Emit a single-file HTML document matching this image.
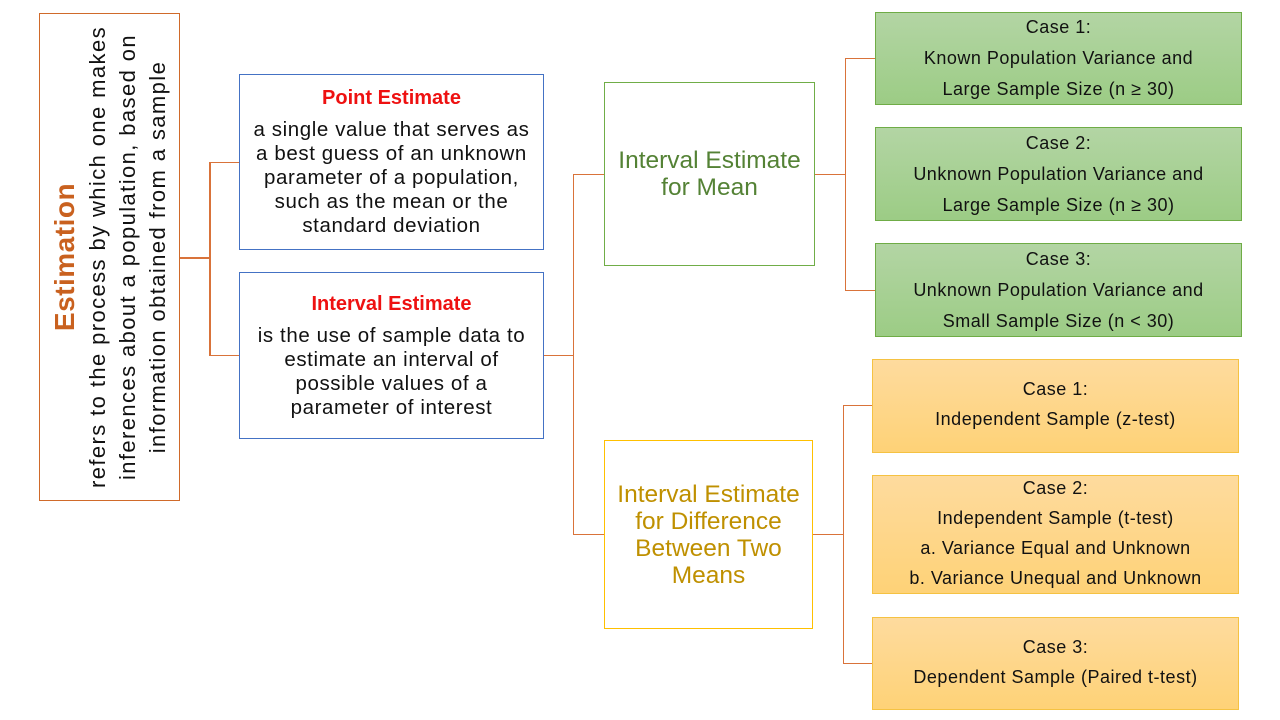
<!DOCTYPE html>
<html><head><meta charset="utf-8"><style>
body{margin:0;width:1280px;height:720px;background:#fff;position:relative;font-family:"Liberation Sans",sans-serif;overflow:hidden}
.b{position:absolute;box-sizing:border-box;display:flex;flex-direction:column;justify-content:center;align-items:center;text-align:center;color:#111}
.l{position:absolute;background:#d9733a}
.g{background:linear-gradient(#b3d5a4,#9ccc85);border:1px solid #6fac46;font-size:18px;line-height:31px;letter-spacing:0.5px}
.y{background:linear-gradient(#fedb9e,#fed277);border:1px solid #f5c242;font-size:18px;line-height:30px;letter-spacing:0.5px}
</style></head><body>
<div class="b" style="left:39px;top:13px;width:141px;height:488px;border:1px solid #d06a2a;">
 <div style="transform:rotate(-90deg);width:480px;font-size:22px;line-height:30px;letter-spacing:1.4px;white-space:nowrap">
  <div style="color:#c9611f;font-weight:bold;font-size:28px;line-height:36px;letter-spacing:0.5px">Estimation</div>
  <div>refers to the process by which one makes</div>
  <div>inferences about a population, based on</div>
  <div>information obtained from a sample</div>
 </div>
</div>
<div class="l" style="left:180px;top:257px;width:30px;height:2px"></div>
<div class="l" style="left:209px;top:162px;width:2px;height:194px"></div>
<div class="l" style="left:209px;top:162px;width:30px;height:1px"></div>
<div class="l" style="left:209px;top:355px;width:30px;height:1px"></div>

<div class="b" style="left:239px;top:74px;width:305px;height:176px;border:1px solid #4472c4;font-size:20.5px;line-height:24px;letter-spacing:0.6px">
 <div style="color:#ee1111;font-weight:bold;margin-bottom:8px;font-size:20px;letter-spacing:0">Point Estimate</div>
 <div>a single value that serves as<br>a best guess of an unknown<br>parameter of a population,<br>such as the mean or the<br>standard deviation</div>
</div>
<div class="b" style="left:239px;top:272px;width:305px;height:167px;border:1px solid #4472c4;font-size:20.5px;line-height:24px;letter-spacing:0.6px">
 <div style="color:#ee1111;font-weight:bold;margin-bottom:8px;font-size:20px;letter-spacing:0">Interval Estimate</div>
 <div>is the use of sample data to<br>estimate an interval of<br>possible values of a<br>parameter of interest</div>
</div>
<div class="l" style="left:544px;top:355px;width:30px;height:1px"></div>
<div class="l" style="left:573px;top:174px;width:1px;height:361px"></div>
<div class="l" style="left:573px;top:174px;width:31px;height:1px"></div>
<div class="l" style="left:573px;top:534px;width:31px;height:1px"></div>

<div class="b" style="left:604px;top:82px;width:211px;height:184px;border:1px solid #70ad47;color:#548235;font-size:24.5px;line-height:27px">Interval Estimate<br>for Mean</div>
<div class="b" style="left:604px;top:440px;width:209px;height:189px;border:1px solid #ffc000;color:#bf9000;font-size:24.5px;line-height:27px">Interval Estimate<br>for Difference<br>Between Two<br>Means</div>

<div class="l" style="left:815px;top:174px;width:30px;height:1px"></div>
<div class="l" style="left:845px;top:58px;width:1px;height:233px"></div>
<div class="l" style="left:845px;top:58px;width:30px;height:1px"></div>
<div class="l" style="left:845px;top:290px;width:30px;height:1px"></div>

<div class="b g" style="left:875px;top:12px;width:367px;height:93px">Case 1:<br>Known Population Variance and<br>Large Sample Size (n ≥ 30)</div>
<div class="b g" style="left:875px;top:127px;width:367px;height:94px">Case 2:<br>Unknown Population Variance and<br>Large Sample Size (n ≥ 30)</div>
<div class="b g" style="left:875px;top:243px;width:367px;height:94px">Case 3:<br>Unknown Population Variance and<br>Small Sample Size (n &lt; 30)</div>

<div class="l" style="left:813px;top:534px;width:30px;height:1px"></div>
<div class="l" style="left:843px;top:405px;width:1px;height:259px"></div>
<div class="l" style="left:843px;top:405px;width:29px;height:1px"></div>
<div class="l" style="left:843px;top:663px;width:29px;height:1px"></div>

<div class="b y" style="left:872px;top:359px;width:367px;height:94px;padding-bottom:4px">Case 1:<br>Independent Sample (z-test)</div>
<div class="b y" style="left:872px;top:475px;width:367px;height:119px;padding-bottom:3px">Case 2:<br>Independent Sample (t-test)<br>a. Variance Equal and Unknown<br>b. Variance Unequal and Unknown</div>
<div class="b y" style="left:872px;top:617px;width:367px;height:93px;padding-bottom:4px">Case 3:<br>Dependent Sample (Paired t-test)</div>
</body></html>
